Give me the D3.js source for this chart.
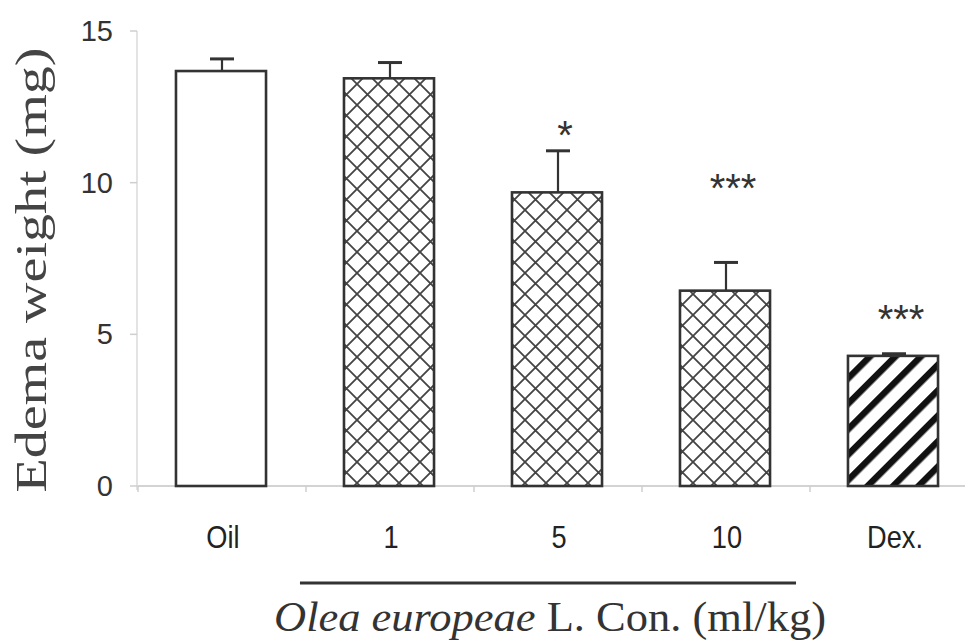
<!DOCTYPE html>
<html>
<head>
<meta charset="utf-8">
<script src="https://cdn.jsdelivr.net/npm/d3@7"></script>
<style>
  body { margin: 0; background: #fff; }
  svg { display: block; }
</style>
</head>
<body>
<div id="chart"></div>
<script>
var groups = ["Oil", "1", "5", "10", "Dex."];
var means = [13.68, 13.44, 9.68, 6.44, 4.29];
var errs = [0.40, 0.52, 1.37, 0.93, 0.07];
var fills = ["none", "hatch", "hatch", "hatch", "stripe"];
var sigText = ["", "", "*", "***", "***"];
var sigLevel = [0, 0, 11.1, 9.35, 5.05];
var yTicks = [0, 5, 10, 15];

var W = 965, H = 643;
var sans = "'Liberation Sans', Arial, sans-serif";
var serif = "'Liberation Serif', 'Times New Roman', Times, serif";

var svg = d3.select("#chart").append("svg")
  .attr("width", W).attr("height", H);

var defs = svg.append("defs");
// crosshatch for the extract doses
var hp = defs.append("pattern")
  .attr("id", "hatch")
  .attr("patternUnits", "userSpaceOnUse")
  .attr("width", 21).attr("height", 21);
hp.append("rect").attr("width", 21).attr("height", 21).attr("fill", "#fff");
hp.append("path").attr("d", "M-2,2 L2,-2 M0,21 L21,0 M19,23 L23,19 M-2,19 L2,23 M0,0 L21,21 M19,-2 L23,2")
  .attr("stroke", "#444").attr("stroke-width", 1.8);
// thick diagonal stripes for Dex.
var sp = defs.append("pattern")
  .attr("id", "stripe")
  .attr("patternUnits", "userSpaceOnUse")
  .attr("width", 18).attr("height", 18)
  .attr("patternTransform", "rotate(45)");
sp.append("rect").attr("width", 18).attr("height", 18).attr("fill", "#fff");
sp.append("rect").attr("x", 0).attr("width", 6.5).attr("height", 18).attr("fill", "#111");

var x = d3.scaleBand().domain(groups).range([137, 977])
  .paddingInner(0.464).paddingOuter(0.232);
var y = d3.scaleLinear().domain([0, 15]).range([486, 31]);
var step = x.step();

// axes (light gray)
var g = svg.append("g");
g.append("line").attr("x1", 137).attr("x2", W).attr("y1", y(0)).attr("y2", y(0))
  .attr("stroke", "#d3d3d3").attr("stroke-width", 2);
g.append("line").attr("x1", 137).attr("x2", 137).attr("y1", y(0) + 4).attr("y2", y(15))
  .attr("stroke", "#dadada").attr("stroke-width", 1.5);

g.selectAll(".ytick").data(yTicks).enter().append("line")
  .attr("x1", 130).attr("x2", 137)
  .attr("y1", function(d) { return y(d); }).attr("y2", function(d) { return y(d); })
  .attr("stroke", "#cfcfcf").attr("stroke-width", 1.5);
g.selectAll(".ylab").data(yTicks).enter().append("text")
  .attr("x", 113).attr("y", function(d) { return y(d) + 10; })
  .attr("text-anchor", "end")
  .attr("font-family", sans)
  .attr("font-size", "29px").attr("fill", "#333")
  .text(function(d) { return d; });

// x ticks at category boundaries
g.selectAll(".xtick").data(d3.range(groups.length)).enter().append("line")
  .attr("x1", function(i) { return 137 + i * step + 1; })
  .attr("x2", function(i) { return 137 + i * step + 1; })
  .attr("y1", y(0)).attr("y2", y(0) + 6)
  .attr("stroke", "#cfcfcf").attr("stroke-width", 1.5);

g.selectAll(".xlab").data(groups).enter().append("text")
  .attr("x", function(d) { return x(d) + x.bandwidth() / 2 + 2; })
  .attr("y", 548)
  .attr("text-anchor", "middle")
  .attr("font-family", sans)
  .attr("font-size", "32px").attr("fill", "#222")
  .attr("transform", function(d) {
    var cx = x(d) + x.bandwidth() / 2 + 2;
    return "translate(" + cx + ",0) scale(0.85,1) translate(" + (-cx) + ",0)";
  })
  .text(function(d) { return d; });

// error bars
var bars = svg.append("g");
groups.forEach(function(d, i) {
  var cx = x(d) + x.bandwidth() / 2 + 1;
  if (errs[i] > 0.15) {
    bars.append("line").attr("x1", cx).attr("x2", cx)
      .attr("y1", y(means[i])).attr("y2", y(means[i] + errs[i]))
      .attr("stroke", "#333").attr("stroke-width", 2.2);
  }
  bars.append("line").attr("x1", cx - 12).attr("x2", cx + 12)
    .attr("y1", y(means[i] + errs[i])).attr("y2", y(means[i] + errs[i]))
    .attr("stroke", "#333").attr("stroke-width", 3);
});

bars.selectAll(".bar").data(groups).enter().append("rect")
  .attr("x", function(d) { return x(d); })
  .attr("y", function(d, i) { return y(means[i]); })
  .attr("width", x.bandwidth())
  .attr("height", function(d, i) { return y(0) - y(means[i]); })
  .attr("fill", function(d, i) { return fills[i] == "none" ? "#fff" : "url(#" + fills[i] + ")"; })
  .attr("stroke", "#333").attr("stroke-width", 2.6);

// significance stars
bars.selectAll(".sig").data(groups).enter().append("text")
  .attr("x", function(d) { return x(d) + x.bandwidth() / 2 + 8; })
  .attr("y", function(d, i) { return y(sigLevel[i]); })
  .attr("text-anchor", "middle")
  .attr("font-family", sans)
  .attr("font-size", "40px").attr("fill", "#333")
  .text(function(d, i) { return sigText[i]; });

// y label
svg.append("text")
  .attr("transform", "translate(46,270) rotate(-90)")
  .attr("text-anchor", "middle")
  .attr("font-family", serif)
  .attr("font-size", "44px").attr("fill", "#444")
  .attr("textLength", 445).attr("lengthAdjust", "spacingAndGlyphs")
  .text("Edema weight (mg)");

// bracket under the extract doses
svg.append("line")
  .attr("x1", x("1") - 44).attr("x2", x("10") + x.bandwidth() + 26)
  .attr("y1", 583).attr("y2", 583)
  .attr("stroke", "#333").attr("stroke-width", 3);

var title = svg.append("text")
  .attr("x", 274).attr("y", 631)
  .attr("font-family", serif)
  .attr("font-size", "43px").attr("fill", "#333")
  .attr("textLength", 552).attr("lengthAdjust", "spacingAndGlyphs");
title.append("tspan").attr("font-style", "italic").text("Olea europeae");
title.append("tspan").text(" L. Con. (ml/kg)");
</script>
</body>
</html>
